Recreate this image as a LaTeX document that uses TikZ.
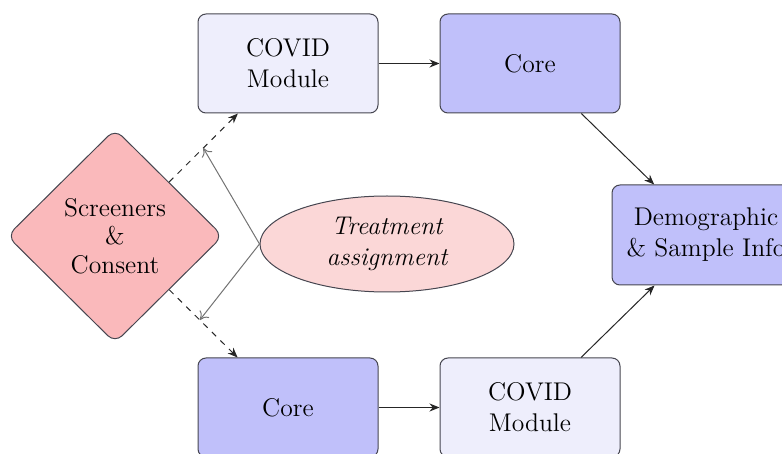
\documentclass[tikz,border=0pt]{standalone}
\usetikzlibrary{shapes.geometric,arrows.meta,calc}
\definecolor{boxlight}{RGB}{238,238,252}
\definecolor{boxcore}{RGB}{192,192,250}
\definecolor{diafill}{RGB}{250,185,187}
\definecolor{ellfill}{RGB}{251,215,215}
\definecolor{edgecol}{RGB}{70,70,80}
\tikzset{
  txt/.style={font=\fontsize{12.8}{15.5}\selectfont},
  boxbase/.style={draw=edgecol, line width=0.5pt, rounded corners=4pt, minimum width=90pt, minimum height=49.5pt, align=center, txt, inner sep=2pt},
  lightbox/.style={boxbase, fill=boxlight},
  corebox/.style={boxbase, fill=boxcore},
  screen/.style={draw=edgecol, line width=0.5pt, diamond, fill=diafill, minimum width=108pt, minimum height=107pt, inner sep=0pt, rounded corners=5pt, align=center, font=\fontsize{12.8}{14.2}\selectfont},
  treat/.style={draw=edgecol, line width=0.5pt, ellipse, fill=ellfill, minimum width=127pt, minimum height=48pt, inner sep=0pt, align=center, font=\fontsize{12.8}{15.5}\selectfont\itshape},
  flow/.style={draw=black!85, line width=0.5pt, -{Stealth[length=5pt,width=4pt]}},
  dflow/.style={flow, dashed},
  assign/.style={draw=black!55, line width=0.5pt, -{To[length=4pt,width=6pt]}}
}
\begin{document}
\begin{tikzpicture}[x=0.5pt,y=-0.5pt]
\useasboundingbox (0,0) rectangle (782,454);
\clip (0,0) rectangle (782,454);
\node[lightbox] (covA) at (288,63.5) {COVID\\Module};
\node[corebox] (coreA) at (530,63.5) {Core};
\node[corebox] (coreB) at (288,407.5) {Core};
\node[lightbox] (covB) at (530,407.5) {COVID\\Module};
\node[corebox, minimum width=94pt, minimum height=50pt] (demo) at (706,235) {Demographic\\\& Sample Info};
\node[screen] (scr) at (115,236) {Screeners\\\&\\Consent};
\node[treat] (trt) at (387,244) {Treatment\\assignment};
\draw[flow] (covA) -- (coreA);
\draw[flow] (coreB) -- (covB);
\draw[flow] (coreA) -- (demo);
\draw[flow] (covB) -- (demo);
\draw[dflow] (scr) -- (covA);
\draw[dflow] (scr) -- (coreB);
\coordinate (upmid) at ($(scr.center)!0.51!(covA.center)$);
\coordinate (lowmid) at ($(scr.center)!0.49!(coreB.center)$);
\draw[assign] (trt.west) -- (upmid);
\draw[assign] (trt.west) -- (lowmid);
\end{tikzpicture}
\end{document}
